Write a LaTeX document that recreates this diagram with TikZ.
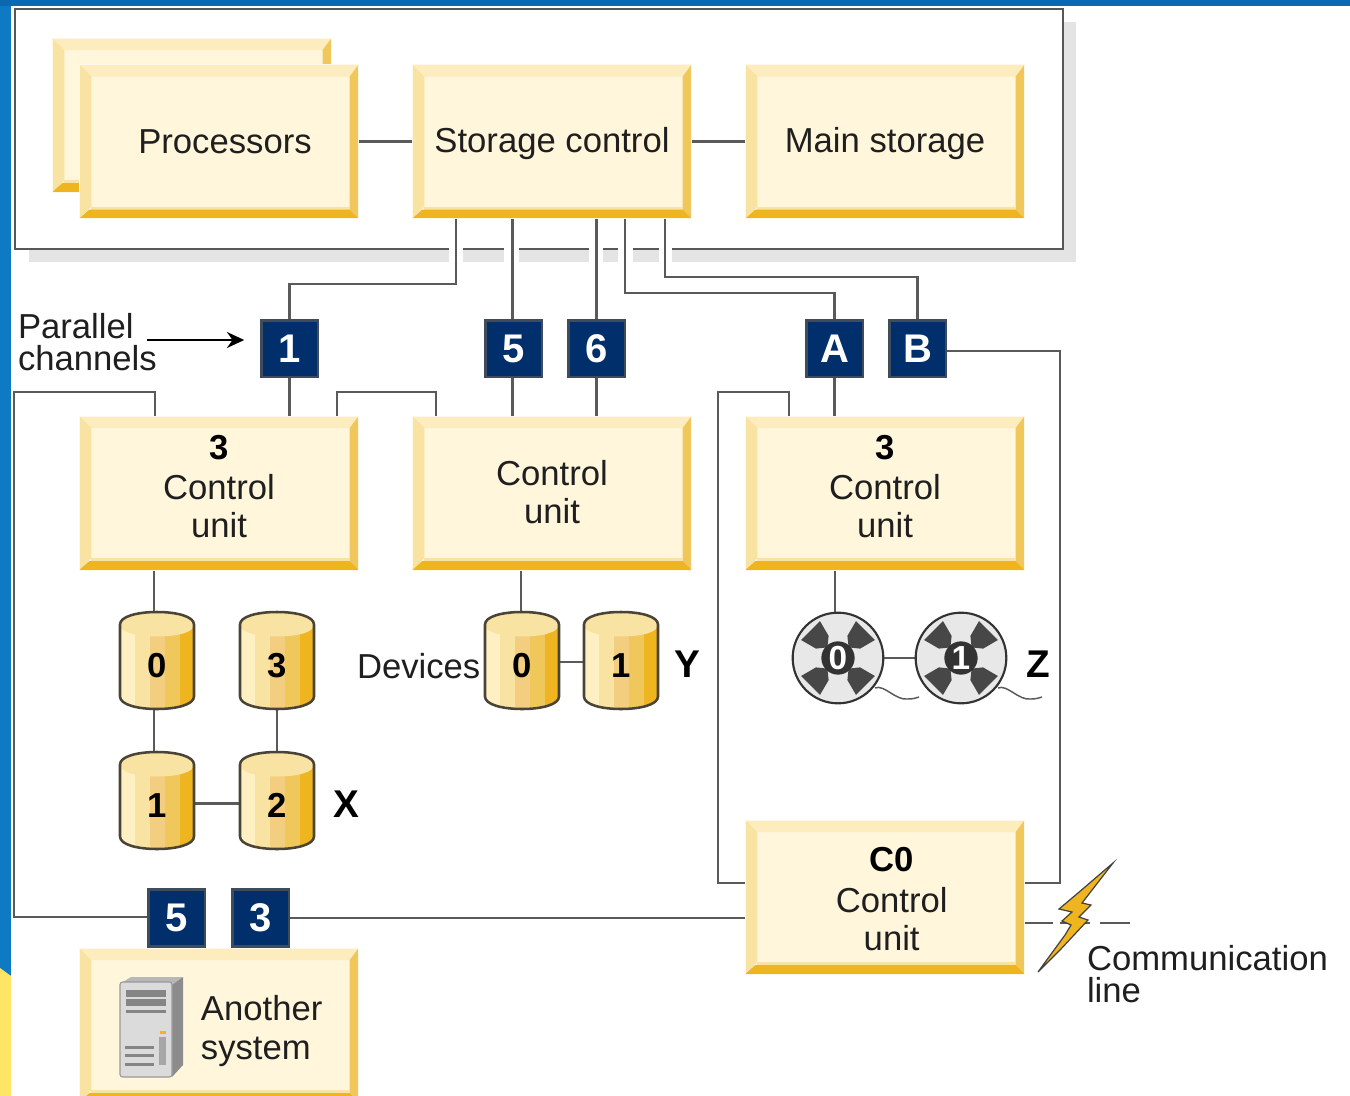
\documentclass[tikz,border=0pt]{standalone}
\usepackage{fontspec}
\setmainfont{Liberation Sans}
\usetikzlibrary{calc,arrows.meta}
\pgfdeclarelayer{base}
\pgfdeclarelayer{conns}
\pgfsetlayers{base,conns,main}
\definecolor{boxfill}{HTML}{FFF6DC}
\definecolor{halo}{HTML}{FFF8E6}
\definecolor{bevtop}{HTML}{FDEDBE}
\definecolor{bevleft}{HTML}{F8E3A3}
\definecolor{bevright}{HTML}{F0C75A}
\definecolor{bevbot}{HTML}{EFB520}
\definecolor{navy}{HTML}{002F6C}
\definecolor{navyedge}{HTML}{3F4C5C}
\definecolor{linec}{HTML}{5A5A5A}
\definecolor{sideblue}{HTML}{0E7AC4}
\definecolor{topblue}{HTML}{0B69B2}
\definecolor{sideyellow}{HTML}{FFE566}
\definecolor{shadowc}{HTML}{E4E4E4}
\definecolor{diskedge}{HTML}{4A4436}
\definecolor{s1}{HTML}{FFF0C4}
\definecolor{s3}{HTML}{F3CD80}
\tikzset{
  x=0.75pt,y=-0.75pt,
  every node/.style={inner sep=0pt,outer sep=0pt,text=black!88},
  txt/.style={font=\fontsize{26}{28.5}\selectfont,align=center},
  txtl/.style={font=\fontsize{26}{23.5}\selectfont,align=left,anchor=west},
  btxt/.style={font=\fontsize{26}{26}\selectfont\bfseries,text=black},
  ybox/.style={draw=halo,line width=0.75pt,fill=boxfill,minimum width=209.5pt,minimum height=115.5pt,txt,
    path picture={
      \coordinate (nw) at (path picture bounding box.north west);
      \coordinate (ne) at (path picture bounding box.north east);
      \coordinate (sw) at (path picture bounding box.south west);
      \coordinate (se) at (path picture bounding box.south east);
      \fill[bevtop] (nw) -- (ne) -- ($(ne)+(-9,12)$) -- ($(nw)+(12,12)$) -- cycle;
      \fill[bevleft] (nw) -- ($(nw)+(12,12)$) -- ($(sw)+(12,-12)$) -- (sw) -- cycle;
      \fill[bevright] (ne) -- ($(ne)+(-9,12)$) -- ($(se)+(-9,-9)$) -- (se) -- cycle;
      \fill[bevleft] ($(sw)+(12,-12)$) -- ($(se)+(-9,-12)$) -- ($(se)+(-9,-9)$) -- ($(sw)+(12,-9)$) -- cycle;
      \fill[bevbot] (sw) -- (se) -- ($(se)+(-9,-9)$) -- ($(sw)+(10,-9)$) -- cycle;
    }},
  chan/.style={draw=navyedge,line width=2pt,fill=navy,minimum width=42.5pt,minimum height=42.5pt,text=white,font=\fontsize{30}{30}\selectfont\bfseries},
  conn/.style={draw=linec,line width=2.2pt},
  diskn/.style={minimum width=55pt,minimum height=72.5pt,text=black,font=\fontsize{26}{26}\selectfont\bfseries,text height=25.5pt,text depth=0pt},
  reeln/.style={circle,draw=black!80,line width=1.6pt,fill=black!9,minimum size=68pt},
  hubn/.style={circle,fill=black!80,minimum size=25pt,text=white,font=\fontsize{25}{25}\selectfont\bfseries},
}
\newcommand{\mydisk}[4]{% name, cx, cy, label
  \begin{scope}[shift={(#2,#3)}]
    \begin{scope}
      \clip (-37,-36) -- (-37,36) .. controls (-37,44) and (-20,48.5) .. (0,48.5) .. controls (20,48.5) and (37,44) .. (37,36) -- (37,-36) .. controls (37,-44) and (20,-48.5) .. (0,-48.5) .. controls (-20,-48.5) and (-37,-44) .. (-37,-36) -- cycle;
      \fill[s1] (-37,-50) rectangle (-22,50);
      \fill[bevleft] (-22,-50) rectangle (-7,50);
      \fill[s3] (-7,-50) rectangle (8,50);
      \fill[bevright] (8,-50) rectangle (23,50);
      \fill[bevbot] (23,-50) rectangle (37,50);
      \fill[bevleft] (-37,-36) .. controls (-37,-44) and (-20,-48.5) .. (0,-48.5) .. controls (20,-48.5) and (37,-44) .. (37,-36) .. controls (37,-28) and (20,-24) .. (0,-24) .. controls (-20,-24) and (-37,-28) .. (-37,-36) -- cycle;
    \end{scope}
    \draw[diskedge,line width=1.9pt] (-37,-36) -- (-37,36) .. controls (-37,44) and (-20,48.5) .. (0,48.5) .. controls (20,48.5) and (37,44) .. (37,36) -- (37,-36) .. controls (37,-44) and (20,-48.5) .. (0,-48.5) .. controls (-20,-48.5) and (-37,-44) .. (-37,-36) -- cycle;
  \end{scope}
  \node[diskn] (#1) at (#2,#3) {#4};
}
\newcommand{\myreel}[4]{% name, cx, cy, label
  \node[reeln] (#1) at (#2,#3) {};
  \begin{scope}[shift={(#2,#3)}]
    \foreach \a in {45,135,225,315}{
      \fill[black!72] (\a:15) -- (\a-22:24) -- (\a-19:41) -- (\a+19:41) -- (\a+22:24) -- cycle;
    }
    \draw[black!65,line width=1.1pt] (37,30) .. controls (46,26) and (58,43) .. (70,41) .. controls (75,41) and (78,40) .. (81,39);
  \end{scope}
  \node[hubn] (#1hub) at (#2,#3) {#4};
}
\begin{document}
\begin{tikzpicture}
\useasboundingbox (0,0) rectangle (1350,1096);
\begin{pgfonlayer}{base}
\fill[white] (0,0) rectangle (1350,1096);
\fill[sideblue] (0,0) rectangle (11,1096);
\fill[sideyellow] (0,968) -- (11,976) -- (11,1096) -- (0,1096) -- cycle;
\fill[topblue] (0,0) rectangle (1350,6);
\fill[shadowc] (1063,22) rectangle (1076,262);
\fill[shadowc] (29,250) rectangle (1076,262);
\draw[draw=black!66,line width=2.1pt,fill=white] (15,9) rectangle (1063,249);
\foreach \a/\b in {449/463,504/519,589/603,618/633,659/672}{
  \fill[white] (\a,244) rectangle (\b,263);
}
\end{pgfonlayer}
% boxes
\node[ybox] (procb) at (192,115) {};
\node[ybox] (proc) at (219,141.5) {\hspace*{9pt}Processors};
\node[ybox,text depth=2.5pt] (sc) at (552,141.5) {Storage control};
\node[ybox,text depth=2.5pt] (ms) at (885,141.5) {Main storage};
\node[ybox,text depth=10.5pt] (cu1) at (219,493) {{\bfseries\color{black}3}\\[1.5pt]Control\\unit};
\node[ybox,text depth=1.5pt] (cu2) at (552,493) {Control\\unit};
\node[ybox,text depth=10.5pt] (cu3) at (885,493) {{\bfseries\color{black}3}\\[1.5pt]Control\\unit};
\node[ybox] (c0) at (885,897) {\rule{0pt}{21.3pt}\hspace*{10pt}{\bfseries\color{black}C0}\\[2.25pt]\hspace*{10pt}Control\\\hspace*{10pt}unit};
\node[ybox,align=left,font=\fontsize{26}{29}\selectfont] (other) at (219,1025) {\rule{0pt}{28pt}\hspace*{64pt}Another\\\hspace*{64pt}system};
% channels
\node[chan] (ch1) at (289.5,348.5) {1};
\node[chan] (ch5) at (513.5,348.5) {5};
\node[chan] (ch6) at (596.5,348.5) {6};
\node[chan] (chA) at (834.5,348.5) {A};
\node[chan] (chB) at (917.5,348.5) {B};
\node[chan] (ob5) at (176.5,918) {5};
\node[chan] (ob3) at (260.5,918) {3};
% disks and reels
\mydisk{xa}{157}{660.5}{0}
\mydisk{xd}{277}{660.5}{3}
\mydisk{xb}{157}{800.5}{1}
\mydisk{xc}{277}{800.5}{2}
\mydisk{ya}{522}{660.5}{0}
\mydisk{yb}{621}{660.5}{1}
\myreel{za}{838}{658}{0}
\myreel{zb}{961}{658}{1}
% named bends
\coordinate (j1) at (456,284);
\coordinate (jA) at (625,293);
\coordinate (jB) at (665,277);
\coordinate (rB) at (1060,351);
\coordinate (rC) at (1060,883);
\coordinate (lA) at (155,392);
\coordinate (lB) at (14,392);
\coordinate (lC) at (14,917);
\coordinate (mA) at (337,392);
\coordinate (mB) at (436,392);
\coordinate (nA) at (789,392);
\coordinate (nB) at (718,392);
\coordinate (nC) at (718,883);
\coordinate (k1) at (1053,923);
\coordinate (k2) at (1060,923);
\coordinate (k3) at (1090,923);
\coordinate (k4) at (1100,923);
\coordinate (k5) at (1130,923);
% connectors
\begin{pgfonlayer}{conns}
\draw[conn] (proc.east) -- (sc.west);
\draw[conn] (sc.east) -- (ms.west);
\draw[conn] (ch1.north) |- (j1) -- (j1 |- sc.south);
\draw[conn] ([xshift=-0.75pt]ch5.north) -- ([xshift=-0.75pt]ch5.north |- sc.south);
\draw[conn] (ch6.north) -- (ch6.north |- sc.south);
\draw[conn] (chA.north) |- (jA) -- (jA |- sc.south);
\draw[conn] (chB.north) |- (jB) -- (jB |- sc.south);
\draw[conn] (ch1.south) -- (ch1.south |- cu1.north);
\draw[conn] ([xshift=-0.75pt]ch5.south) -- ([xshift=-0.75pt]ch5.south |- cu2.north);
\draw[conn] (ch6.south) -- (ch6.south |- cu2.north);
\draw[conn] (chA.south) -- (chA.south |- cu3.north);
\draw[conn] (chB.east |- rB) -- (rB) -- (rC) -- (rC -| c0.east);
\draw[conn] (lA |- cu1.north) -- (lA) -- (lB) -- (lC) -- (lC -| ob5.west);
\draw[conn] (mA |- cu1.north) -- (mA) -- (mB) -- (mB |- cu2.north);
\draw[conn] (nA |- cu3.north) -- (nA) -- (nB) -- (nC) -- (nC -| c0.west);
\draw[conn] (ob3.east) -- (ob3.east -| c0.west);
\draw[conn] ([xshift=-2.25pt]xa.north) -- ([xshift=-2.25pt]xa.north |- cu1.south);
\draw[conn] ([xshift=-2.25pt]xa.south) -- ([xshift=-2.25pt]xb.north);
\draw[conn] (xd.south) -- (xc.north);
\draw[conn] ([yshift=-1.9pt]xb.east) -- ([yshift=-1.9pt]xc.west);
\draw[conn] ([xshift=-0.75pt]ya.north) -- ([xshift=-0.75pt]ya.north |- cu2.south);
\draw[conn] ([yshift=-1.1pt]ya.east) -- ([yshift=-1.1pt]yb.west);
\draw[conn] ([xshift=-2.25pt]za.north) -- ([xshift=-2.25pt]za.north |- cu3.south);
\draw[conn] (za.east) -- (zb.west);
\draw[conn] (k1 -| c0.east) -- (k1);
\draw[conn] (k2) -- (k3);
\draw[conn] (k4) -- (k5);
\end{pgfonlayer}
% group labels
\node[btxt,font=\fontsize{29}{29}\selectfont\bfseries] (lx) at (346,804) {X};
\node[btxt,font=\fontsize{29}{29}\selectfont\bfseries] (ly) at (687,664) {Y};
\node[btxt,font=\fontsize{29}{29}\selectfont\bfseries] (lz) at (1038,664) {Z};
\node[txt,anchor=west] (dev) at (357,666) {Devices};
\node[txtl] (par) at (18,342) {Parallel\\channels};
\coordinate (a0) at (147,340);
\draw[-{Stealth[length=13pt,width=12pt]},black,line width=1.4pt,shorten >=12.7pt] (a0) -- (a0 -| ch1.west);
% lightning
\draw[fill=bevbot,draw=black!75,line width=0.9pt,line join=miter]
  (1113,863) -- (1082,903) -- (1091,905) -- (1079,917) -- (1088,920) -- (1060,950) -- (1038,972) -- (1065,935) -- (1071,925) -- (1062,921) -- (1072,912) -- (1059,909) -- (1078,893) -- cycle;
\node[txtl] (comm) at (1087,974) {Communication\\line};
% server icon
\fill[black!28] (123,982) -- (131,977) -- (183,977) -- (172,985) -- cycle;
\fill[black!45] (172,985) -- (183,977) -- (183,1065) -- (172,1077) -- cycle;
\fill[black!14,draw=black!40,line width=0.8pt,rounded corners=2pt] (120,982) rectangle (172,1077);
\fill[black!48] (126,990) rectangle (166,997);
\fill[black!48] (126,999) rectangle (166,1006);
\fill[black!48] (126,1010) rectangle (166,1013);
\fill[black!48] (125,1046) rectangle (154,1049);
\fill[black!48] (125,1054) rectangle (154,1057);
\fill[black!48] (125,1063) rectangle (154,1066);
\fill[black!35] (159,1037) rectangle (166,1065);
\fill[bevbot] (160,1031) rectangle (166,1034);
\end{tikzpicture}
\end{document}
